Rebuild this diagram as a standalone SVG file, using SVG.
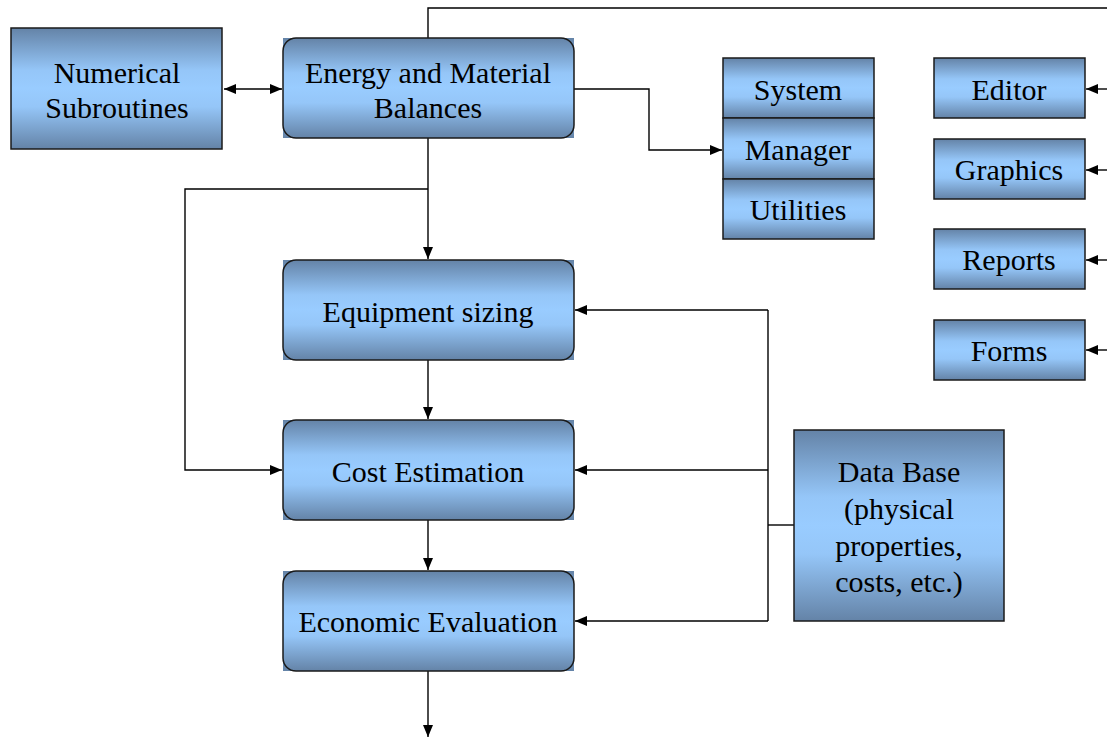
<svg xmlns="http://www.w3.org/2000/svg" width="1107" height="738" viewBox="0 0 1107 738">
<style>
.t{font-family:"Liberation Serif","Times New Roman",serif;font-size:30px;fill:#000;text-anchor:middle}
.box{fill:url(#g);stroke:#1a1a1a;stroke-width:1.5}
.bg{fill:url(#g)}
.rb{fill:none;stroke:#1a1a1a;stroke-width:1.5}
.c{fill:none;stroke:#000;stroke-width:1.4}
</style>
<defs>
<linearGradient id="g" x1="0" y1="0" x2="0" y2="1">
<stop offset="0" stop-color="#6483A7"/>
<stop offset="0.35" stop-color="#95C6F8"/>
<stop offset="0.5" stop-color="#99CCFF"/>
<stop offset="0.65" stop-color="#95C6F8"/>
<stop offset="1" stop-color="#6483A7"/>
</linearGradient>
<marker id="a" viewBox="0 0 12 10" refX="12" refY="5" markerWidth="12" markerHeight="10" markerUnits="userSpaceOnUse" orient="auto-start-reverse">
<path d="M0,0 L12,5 L0,10 z" fill="#000"/>
</marker>
</defs>
<g id="connectors">
<line class="c" x1="224" y1="89" x2="282" y2="89" marker-start="url(#a)" marker-end="url(#a)"/>
<polyline class="c" points="428,38 428,8 1107,8"/>
<polyline class="c" points="574,89 649,89 649,150 722,150" marker-end="url(#a)"/>
<line class="c" x1="1107" y1="89" x2="1086" y2="89" marker-end="url(#a)"/>
<line class="c" x1="1107" y1="170" x2="1086" y2="170" marker-end="url(#a)"/>
<line class="c" x1="1107" y1="260" x2="1086" y2="260" marker-end="url(#a)"/>
<line class="c" x1="1107" y1="350" x2="1086" y2="350" marker-end="url(#a)"/>
<line class="c" x1="428" y1="138" x2="428" y2="259" marker-end="url(#a)"/>
<polyline class="c" points="428,189 185,189 185,470 282,470" marker-end="url(#a)"/>
<line class="c" x1="428" y1="360" x2="428" y2="419" marker-end="url(#a)"/>
<line class="c" x1="428" y1="520" x2="428" y2="570" marker-end="url(#a)"/>
<line class="c" x1="428" y1="671" x2="428" y2="737" marker-end="url(#a)"/>
<line class="c" x1="794" y1="525" x2="768" y2="525"/>
<line class="c" x1="768" y1="310" x2="768" y2="621"/>
<line class="c" x1="768" y1="310" x2="575" y2="310" marker-end="url(#a)"/>
<line class="c" x1="768" y1="470" x2="575" y2="470" marker-end="url(#a)"/>
<line class="c" x1="768" y1="621" x2="575" y2="621" marker-end="url(#a)"/>
</g>
<g id="numerical">
<rect class="box" x="11" y="28" width="211" height="121"/>
<text class="t" x="117" y="83">Numerical</text>
<text class="t" x="117" y="118">Subroutines</text>
</g>
<g id="energy">
<rect class="bg" x="283" y="38" width="291" height="100"/>
<rect class="rb" x="283" y="38" width="291" height="100" rx="13"/>
<text class="t" x="428" y="83">Energy and Material</text>
<text class="t" x="428" y="118">Balances</text>
</g>
<g id="system">
<rect class="box" x="723" y="58" width="151" height="60"/>
<text class="t" x="798" y="100">System</text>
</g>
<g id="manager">
<rect class="box" x="723" y="118" width="151" height="61"/>
<text class="t" x="798" y="160">Manager</text>
</g>
<g id="utilities">
<rect class="box" x="723" y="179" width="151" height="60"/>
<text class="t" x="798" y="220">Utilities</text>
</g>
<g id="editor">
<rect class="box" x="934" y="58" width="151" height="60"/>
<text class="t" x="1009" y="100">Editor</text>
</g>
<g id="graphics">
<rect class="box" x="934" y="139" width="151" height="60"/>
<text class="t" x="1009" y="180">Graphics</text>
</g>
<g id="reports">
<rect class="box" x="934" y="229" width="151" height="60"/>
<text class="t" x="1009" y="270">Reports</text>
</g>
<g id="forms">
<rect class="box" x="934" y="320" width="151" height="60"/>
<text class="t" x="1009" y="361">Forms</text>
</g>
<g id="equipment">
<rect class="bg" x="283" y="260" width="291" height="100"/>
<rect class="rb" x="283" y="260" width="291" height="100" rx="13"/>
<text class="t" x="428" y="322">Equipment sizing</text>
</g>
<g id="cost">
<rect class="bg" x="283" y="420" width="291" height="100"/>
<rect class="rb" x="283" y="420" width="291" height="100" rx="13"/>
<text class="t" x="428" y="482">Cost Estimation</text>
</g>
<g id="economic">
<rect class="bg" x="283" y="571" width="291" height="100"/>
<rect class="rb" x="283" y="571" width="291" height="100" rx="13"/>
<text class="t" x="428" y="632">Economic Evaluation</text>
</g>
<g id="database">
<rect class="box" x="794" y="430" width="210" height="191"/>
<text class="t" x="899" y="482">Data Base</text>
<text class="t" x="899" y="519">(physical</text>
<text class="t" x="899" y="556">properties,</text>
<text class="t" x="899" y="592">costs, etc.)</text>
</g>
</svg>
